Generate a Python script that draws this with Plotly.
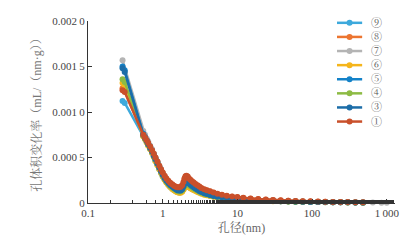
import plotly.graph_objects as go

# pore diameter (nm)
x_common = [0.29, 0.31, 0.55, 0.58, 0.61, 0.64, 0.68, 0.72, 0.76, 0.80, 0.85, 0.90, 0.95, 1.00,
            1.06, 1.12, 1.19, 1.26, 1.34, 1.42, 1.50, 1.58, 1.66, 1.74, 1.82, 1.90, 1.96, 2.02,
            2.08, 2.16, 2.25, 2.35, 2.47, 2.60, 2.75, 2.92, 3.1, 3.3, 3.6, 3.9, 4.3, 4.8, 5.4,
            6.2, 7.2, 8.5, 10, 12, 15, 19, 24, 30, 38, 48, 60, 75, 95, 120, 150, 190, 240, 300,
            380, 480]
x_gray = x_common + [650, 850, 1000]

# pore volume change rate, mL/(nm·g)
y9 = [11.2e-4, 11.0e-4, 7.35e-4, 7.05e-4, 6.7e-4, 6.35e-4, 5.95e-4, 5.55e-4, 5.1e-4, 4.65e-4, 4.2e-4, 3.75e-4, 3.35e-4, 2.95e-4,
      2.6e-4, 2.3e-4, 2.02e-4, 1.78e-4, 1.58e-4, 1.42e-4, 1.3e-4, 1.2e-4, 1.15e-4, 1.17e-4, 1.28e-4, 1.5e-4, 1.75e-4, 1.9e-4,
      1.95e-4, 1.87e-4, 1.76e-4, 1.66e-4, 1.56e-4, 1.46e-4, 1.36e-4, 1.26e-4, 1.16e-4, 1.06e-4, 0.96e-4, 0.87e-4, 0.79e-4, 0.71e-4, 0.63e-4,
      0.56e-4, 0.5e-4, 0.44e-4, 0.39e-4, 0.35e-4, 0.31e-4, 0.27e-4, 0.24e-4, 0.21e-4, 0.19e-4, 0.17e-4, 0.15e-4, 0.13e-4, 0.12e-4, 0.1e-4,
      0.09e-4, 0.08e-4, 0.07e-4, 0.06e-4, 0.05e-4, 0.04e-4]
y8 = [12.6e-4, 12.3e-4, 7.45e-4, 7.15e-4, 6.85e-4, 6.55e-4, 6.15e-4, 5.75e-4, 5.35e-4, 4.95e-4, 4.5e-4, 4.05e-4, 3.65e-4, 3.3e-4,
      2.95e-4, 2.65e-4, 2.4e-4, 2.17e-4, 2.0e-4, 1.85e-4, 1.72e-4, 1.65e-4, 1.64e-4, 1.7e-4, 1.87e-4, 2.2e-4, 2.6e-4, 2.85e-4,
      2.9e-4, 2.8e-4, 2.62e-4, 2.47e-4, 2.32e-4, 2.17e-4, 2.02e-4, 1.88e-4, 1.74e-4, 1.6e-4, 1.46e-4, 1.36e-4, 1.26e-4, 1.12e-4, 1.0e-4,
      0.88e-4, 0.78e-4, 0.7e-4, 0.63e-4, 0.55e-4, 0.48e-4, 0.42e-4, 0.37e-4, 0.32e-4, 0.28e-4, 0.25e-4, 0.22e-4, 0.19e-4, 0.17e-4, 0.15e-4,
      0.13e-4, 0.12e-4, 0.1e-4, 0.09e-4, 0.08e-4, 0.07e-4]
y7 = [15.7e-4, None, 7.9e-4, 7.5e-4, 7.1e-4, 6.75e-4, 6.3e-4, 5.9e-4, 5.45e-4, 5.0e-4, 4.55e-4, 4.1e-4, 3.7e-4, 3.3e-4,
      2.95e-4, 2.62e-4, 2.35e-4, 2.12e-4, 1.93e-4, 1.78e-4, 1.64e-4, 1.55e-4, 1.52e-4, 1.56e-4, 1.7e-4, 2.0e-4, 2.35e-4, 2.6e-4,
      2.65e-4, 2.55e-4, 2.4e-4, 2.25e-4, 2.1e-4, 1.95e-4, 1.8e-4, 1.66e-4, 1.53e-4, 1.4e-4, 1.27e-4, 1.17e-4, 1.07e-4, 0.95e-4, 0.85e-4,
      0.75e-4, 0.67e-4, 0.6e-4, 0.54e-4, 0.48e-4, 0.42e-4, 0.37e-4, 0.33e-4, 0.29e-4, 0.25e-4, 0.22e-4, 0.19e-4, 0.17e-4, 0.15e-4, 0.13e-4,
      0.12e-4, 0.1e-4, 0.09e-4, 0.08e-4, 0.07e-4, 0.06e-4, 0.05e-4, 0.04e-4, 0.03e-4]
y6 = [13.2e-4, 12.9e-4, 7.3e-4, 7.0e-4, 6.65e-4, 6.3e-4, 5.9e-4, 5.5e-4, 5.05e-4, 4.6e-4, 4.15e-4, 3.7e-4, 3.3e-4, 2.9e-4,
      2.55e-4, 2.25e-4, 1.98e-4, 1.75e-4, 1.55e-4, 1.4e-4, 1.27e-4, 1.17e-4, 1.12e-4, 1.14e-4, 1.25e-4, 1.45e-4, 1.7e-4, 1.85e-4,
      1.9e-4, 1.82e-4, 1.72e-4, 1.62e-4, 1.52e-4, 1.42e-4, 1.32e-4, 1.22e-4, 1.12e-4, 1.02e-4, 0.92e-4, 0.84e-4, 0.76e-4, 0.68e-4, 0.61e-4,
      0.54e-4, 0.48e-4, 0.43e-4, 0.38e-4, 0.34e-4, 0.3e-4, 0.26e-4, 0.23e-4, 0.2e-4, 0.18e-4, 0.16e-4, 0.14e-4, 0.12e-4, 0.11e-4, 0.1e-4,
      0.09e-4, 0.08e-4, 0.07e-4, 0.06e-4, 0.05e-4, 0.04e-4]
y5 = [15.0e-4, 14.6e-4, 7.6e-4, 7.25e-4, 6.9e-4, 6.55e-4, 6.15e-4, 5.75e-4, 5.3e-4, 4.9e-4, 4.45e-4, 4.0e-4, 3.6e-4, 3.2e-4,
      2.85e-4, 2.55e-4, 2.28e-4, 2.05e-4, 1.85e-4, 1.7e-4, 1.55e-4, 1.45e-4, 1.4e-4, 1.42e-4, 1.55e-4, 1.85e-4, 2.2e-4, 2.45e-4,
      2.5e-4, 2.4e-4, 2.25e-4, 2.1e-4, 1.95e-4, 1.8e-4, 1.65e-4, 1.5e-4, 1.38e-4, 1.25e-4, 1.12e-4, 1.02e-4, 0.92e-4, 0.82e-4, 0.73e-4,
      0.64e-4, 0.57e-4, 0.5e-4, 0.45e-4, 0.4e-4, 0.35e-4, 0.3e-4, 0.27e-4, 0.24e-4, 0.21e-4, 0.19e-4, 0.17e-4, 0.15e-4, 0.13e-4, 0.12e-4,
      0.1e-4, 0.09e-4, 0.08e-4, 0.07e-4, 0.06e-4, 0.05e-4]
y4 = [13.6e-4, 13.3e-4, 7.4e-4, 7.1e-4, 6.75e-4, 6.4e-4, 6.0e-4, 5.6e-4, 5.15e-4, 4.75e-4, 4.3e-4, 3.85e-4, 3.45e-4, 3.05e-4,
      2.7e-4, 2.4e-4, 2.12e-4, 1.9e-4, 1.72e-4, 1.56e-4, 1.42e-4, 1.32e-4, 1.27e-4, 1.3e-4, 1.4e-4, 1.65e-4, 1.95e-4, 2.15e-4,
      2.2e-4, 2.1e-4, 1.98e-4, 1.85e-4, 1.72e-4, 1.6e-4, 1.48e-4, 1.36e-4, 1.25e-4, 1.13e-4, 1.02e-4, 0.93e-4, 0.84e-4, 0.75e-4, 0.67e-4,
      0.6e-4, 0.53e-4, 0.47e-4, 0.42e-4, 0.37e-4, 0.32e-4, 0.28e-4, 0.25e-4, 0.22e-4, 0.19e-4, 0.17e-4, 0.15e-4, 0.13e-4, 0.12e-4, 0.11e-4,
      0.1e-4, 0.09e-4, 0.08e-4, 0.07e-4, 0.06e-4, 0.05e-4]
y3 = [14.8e-4, 14.4e-4, 7.5e-4, 7.15e-4, 6.8e-4, 6.45e-4, 6.05e-4, 5.65e-4, 5.2e-4, 4.8e-4, 4.35e-4, 3.9e-4, 3.5e-4, 3.1e-4,
      2.75e-4, 2.45e-4, 2.2e-4, 1.98e-4, 1.8e-4, 1.65e-4, 1.5e-4, 1.4e-4, 1.36e-4, 1.38e-4, 1.5e-4, 1.8e-4, 2.12e-4, 2.35e-4,
      2.4e-4, 2.3e-4, 2.15e-4, 2.0e-4, 1.86e-4, 1.72e-4, 1.58e-4, 1.45e-4, 1.33e-4, 1.2e-4, 1.08e-4, 0.98e-4, 0.88e-4, 0.78e-4, 0.7e-4,
      0.62e-4, 0.55e-4, 0.48e-4, 0.43e-4, 0.38e-4, 0.33e-4, 0.29e-4, 0.26e-4, 0.23e-4, 0.2e-4, 0.18e-4, 0.16e-4, 0.14e-4, 0.12e-4, 0.11e-4,
      0.1e-4, 0.09e-4, 0.08e-4, 0.07e-4, 0.06e-4, 0.05e-4]
y1 = [12.4e-4, 12.2e-4, 7.5e-4, 7.2e-4, 6.9e-4, 6.6e-4, 6.2e-4, 5.8e-4, 5.4e-4, 5.0e-4, 4.55e-4, 4.1e-4, 3.7e-4, 3.35e-4,
      3.0e-4, 2.7e-4, 2.45e-4, 2.22e-4, 2.05e-4, 1.9e-4, 1.78e-4, 1.72e-4, 1.72e-4, 1.78e-4, 1.95e-4, 2.3e-4, 2.7e-4, 2.95e-4,
      3.0e-4, 2.9e-4, 2.7e-4, 2.55e-4, 2.4e-4, 2.25e-4, 2.1e-4, 1.95e-4, 1.8e-4, 1.65e-4, 1.5e-4, 1.4e-4, 1.3e-4, 1.15e-4, 1.02e-4,
      0.9e-4, 0.8e-4, 0.72e-4, 0.65e-4, 0.57e-4, 0.5e-4, 0.43e-4, 0.38e-4, 0.33e-4, 0.29e-4, 0.26e-4, 0.23e-4, 0.2e-4, 0.18e-4, 0.16e-4,
      0.14e-4, 0.12e-4, 0.11e-4, 0.1e-4, 0.09e-4, 0.08e-4]

series_names = ["⑨", "⑧", "⑦", "⑥", "⑤", "④", "③", "①"]
series_x = [x_common, x_common, x_gray, x_common, x_common, x_common, x_common, x_common]
series_y = [y9, y8, y7, y6, y5, y4, y3, y1]
series_colors = ["#3DA9DC", "#EC7530", "#B4B4B4", "#F5B51B", "#1482C8", "#8DBB44", "#1C6DA8", "#C9502B"]

x_tickvals = [0.1, 1, 10, 100, 1000]
x_ticktext = ["0.1", "1", "10", "100", "1\u2009000"]
y_tickvals = [0, 0.0005, 0.001, 0.0015, 0.002]
y_ticktext = ["0", "0.000\u20095", "0.001\u20090", "0.001\u20095", "0.002\u20090"]

FONT = "Liberation Serif, Noto Serif CJK SC, Noto Sans CJK SC, serif"

fig = go.Figure()
for name, xs, ys, c in zip(series_names, series_x, series_y, series_colors):
    fig.add_trace(go.Scatter(
        x=xs, y=ys, name=name, mode="lines+markers",
        line=dict(color=c, width=2.5),
        marker=dict(color=c, size=6),
        connectgaps=True, cliponaxis=False, showlegend=False,
    ))

# compact legend (entries spaced closer than plotly's built-in legend allows)
leg_top, leg_step = 0.99, 0.0775
leg_x0, leg_x1, leg_xm, leg_xt = 0.811, 0.893, 0.852, 0.915
for i, (name, c) in enumerate(zip(series_names, series_colors)):
    yy = leg_top - i * leg_step
    fig.add_shape(type="line", xref="paper", yref="paper", x0=leg_x0, x1=leg_x1, y0=yy, y1=yy,
                  line=dict(color=c, width=2.5))
    fig.add_shape(type="circle", xref="paper", yref="paper", xsizemode="pixel", ysizemode="pixel",
                  xanchor=leg_xm, yanchor=yy, x0=-3, x1=3, y0=-3, y1=3,
                  fillcolor=c, line=dict(color=c, width=0))
    fig.add_annotation(xref="paper", yref="paper", x=leg_xt, y=yy, text=name, showarrow=False,
                       xanchor="left", yanchor="middle", font=dict(size=11, color="#555"))

# page body has an 8px default margin, so the figure is 8px smaller to fill the window
fig.update_layout(
    width=401, height=235,
    margin=dict(l=80, r=14, t=7, b=40),
    paper_bgcolor="white", plot_bgcolor="white",
    font=dict(family=FONT, size=11, color="#444"),
)
fig.update_xaxes(
    type="log", range=[-1, 3.11],
    tickvals=x_tickvals, ticktext=x_ticktext,
    ticks="inside", ticklen=4, tickcolor="#333",
    minor=dict(ticks="inside", ticklen=3, tickcolor="#333", showgrid=False),
    showline=True, linecolor="#333", linewidth=1.2,
    showgrid=False, zeroline=False,
    title=dict(text="孔径(nm)", font=dict(size=12, color="#666"), standoff=5),
)
fig.update_yaxes(
    range=[0, 0.002],
    tickvals=y_tickvals, ticktext=y_ticktext,
    ticks="inside", ticklen=4, tickcolor="#333",
    showline=True, linecolor="#333", linewidth=1.2,
    showgrid=False, zeroline=False,
    title=dict(text="孔体积变化率（mL/（nm·g））", font=dict(size=12, color="#777"), standoff=8),
)

fig.write_html("out.html")
